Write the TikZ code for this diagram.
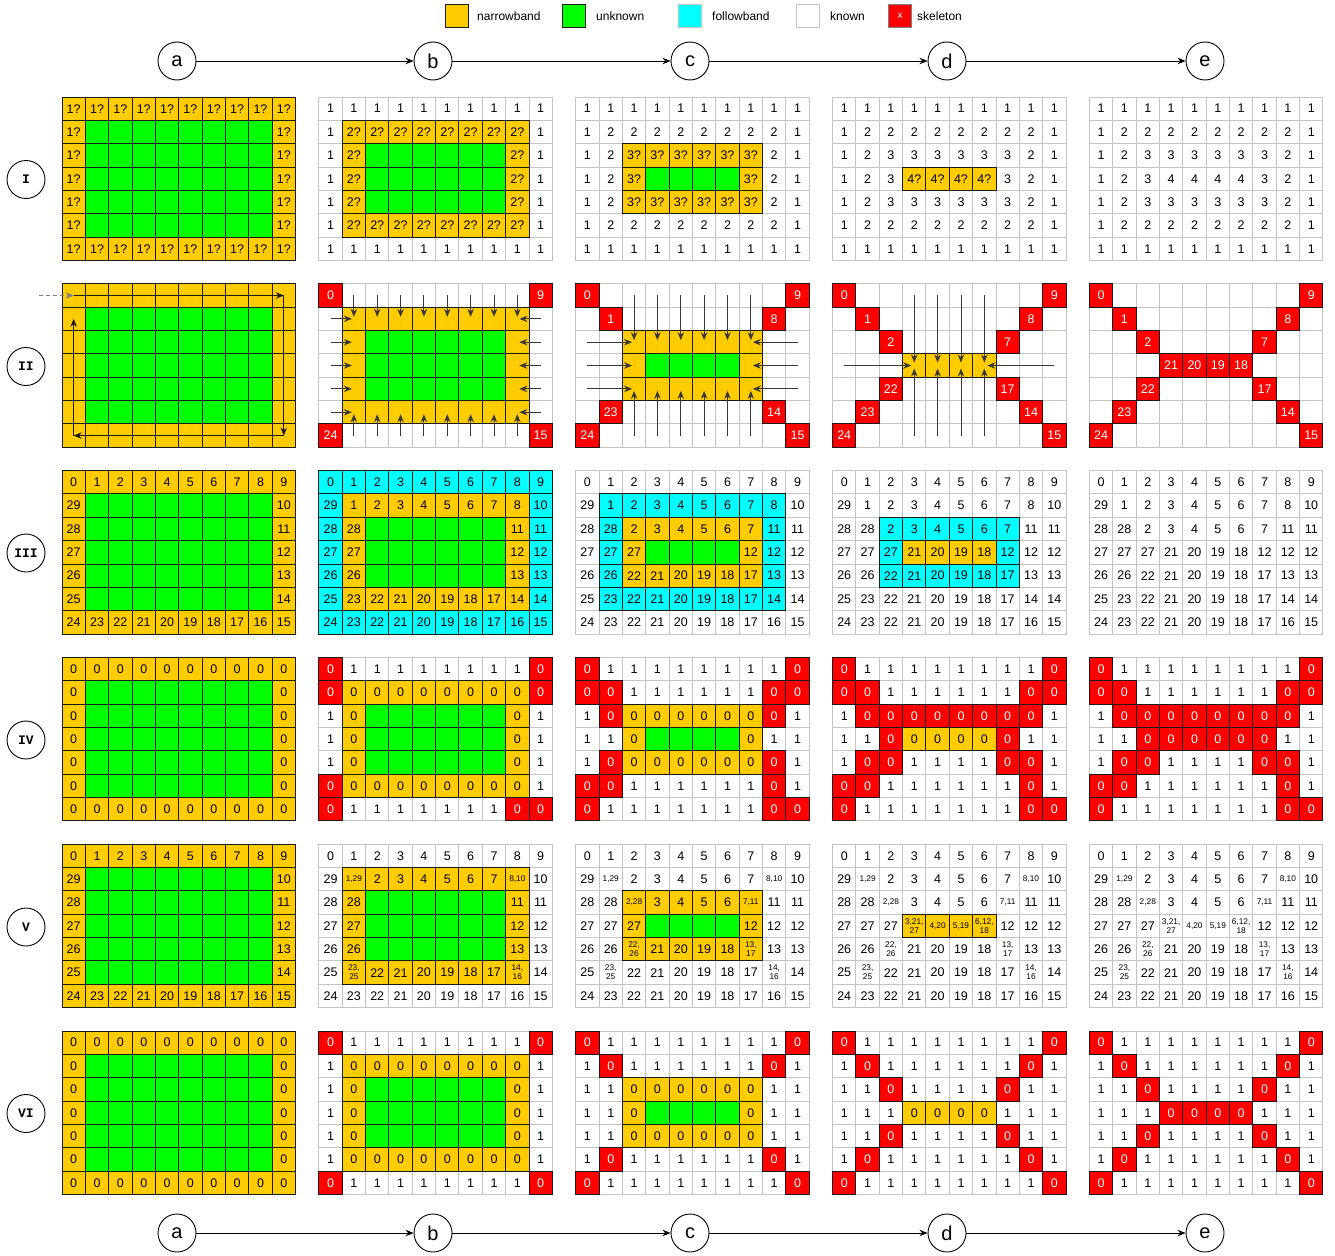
\documentclass[tikz,border=0pt]{standalone}
\usepackage{fontspec}
\setmainfont{Liberation Sans}
\newfontfamily\rlfont{Liberation Mono}
\usepackage{xstring}
\usetikzlibrary{arrows.meta}
\definecolor{nbc}{HTML}{FFCC00}
\definecolor{unc}{HTML}{00FF00}
\definecolor{fbc}{HTML}{00FFFF}
\definecolor{skc}{HTML}{FF0000}
\definecolor{lgc}{HTML}{C4C4C4}
\definecolor{dkc}{HTML}{1A1A1A}
\definecolor{arc}{HTML}{383838}
% type tables
\def\zzfcn{nbc}\def\zzfcN{nbc}\def\zzfcm{nbc}\def\zzfcu{unc}\def\zzfcf{fbc}\def\zzfck{white}\def\zzfcK{white}\def\zzfce{white}\def\zzfcs{skc}
\def\zzdbn{1}\def\zzdbN{1}\def\zzdbm{1}\def\zzdbu{1}\def\zzdbf{1}\def\zzdbk{0}\def\zzdbK{0}\def\zzdbe{0}\def\zzdbs{1}
\def\zztmn{1}\def\zztmN{2}\def\zztmm{0}\def\zztmu{0}\def\zztmf{1}\def\zztmk{1}\def\zztmK{2}\def\zztme{0}\def\zztms{3}
\tikzset{
  cellgray/.style={draw=lgc,line width=1pt},
  celldark/.style={draw=dkc,line width=1pt},
  ctext/.style={font=\fontsize{12.5}{14}\selectfont,inner sep=0pt,text=black},
  stext/.style={font=\fontsize{8.3}{9}\selectfont,inner sep=0pt,align=center,text=black},
  wtext/.style={ctext,text=white},
  arr/.style={draw=arc,line width=0.9pt,shorten >=2pt,-{Stealth[length=8pt,width=6.5pt]}},
  arrA/.style={draw=dkc,line width=1pt,-{Stealth[length=8pt,width=6.5pt]}},
  darr/.style={draw=gray,line width=1pt,dash pattern=on 4pt off 3pt,-{Stealth[length=8pt,width=6.5pt]}},
  hcirc/.style={circle,draw=black,line width=0.9pt,minimum size=38pt,inner sep=0pt,font=\fontsize{20}{22}\selectfont},
  rcirc/.style={circle,draw=black,line width=0.9pt,minimum size=38pt,inner sep=0pt,font=\rlfont\bfseries\fontsize{13}{15}\selectfont},
  harr/.style={draw=black,line width=0.9pt,-{Stealth[length=8pt,width=6.5pt]}},
  lbox/.style={draw=dkc,line width=0.9pt,minimum size=23pt,inner sep=0pt},
  ltext/.style={font=\fontsize{12}{14}\selectfont,anchor=west,inner sep=0pt}
}
\def\pass{1}
\newcommand\G[9]{%
  \def\gc{#1}\def\gr{#2}%
  \pgfmathsetmacro\gx{62+#1*256.85}%
  \pgfmathsetmacro\gy{97+#2*186.8}%
  \RowP{0}{#3}\RowP{1}{#4}\RowP{2}{#5}\RowP{3}{#6}\RowP{4}{#7}\RowP{5}{#8}\RowP{6}{#9}%
}
\newcommand\RowP[2]{\def\rowy{#1}\expandafter\RowPi#2\zzend}
\def\RowPi#1/#2\zzend{%
  \foreach \tx [count=\ii] in {#2}{%
    \pgfmathtruncatemacro\ci{\ii-1}%
    \StrChar{#1}{\ii}[\cty]%
    \pgfmathsetmacro\xa{\gx+\ci*23.35}%
    \pgfmathsetmacro\ya{\gy+\rowy*23.35}%
    \ifcase\pass\relax
    \or
      \edef\fc{\csname zzfc\cty\endcsname}%
      \fill[fill=\fc] (\xa,\ya) rectangle ++(23.35,23.35);
      \draw[cellgray] (\xa,\ya) rectangle ++(23.35,23.35);
    \or
      \edef\db{\csname zzdb\cty\endcsname}%
      \ifnum\db=1\relax
        \draw[celldark] (\xa,\ya) rectangle ++(23.35,23.35);
      \fi
    \or
      \edef\tm{\csname zztm\cty\endcsname}%
      \coordinate (p\gc\gr-\ci-\rowy) at ({\xa+11.675},{\ya+11.675});
      \ifcase\tm\relax
      \or \node[ctext] (t\gc\gr-\ci-\rowy) at (p\gc\gr-\ci-\rowy) {\tx};%
      \or \node[stext] (t\gc\gr-\ci-\rowy) at (p\gc\gr-\ci-\rowy) {\tx};%
      \or \node[wtext] (t\gc\gr-\ci-\rowy) at (p\gc\gr-\ci-\rowy) {\tx};%
      \fi
    \fi
  }%
}
% ---- row data ----
\def\zQa{nnnnnnnnnn/1?,1?,1?,1?,1?,1?,1?,1?,1?,1?}
\def\zQb{nuuuuuuuun/1?,-,-,-,-,-,-,-,-,1?}
\def\zOa{kkkkkkkkkk/1,1,1,1,1,1,1,1,1,1}
\def\zOb{knnnnnnnnk/1,2?,2?,2?,2?,2?,2?,2?,2?,1}
\def\zOc{knuuuuuunk/1,2?,-,-,-,-,-,-,2?,1}
\def\zTb{kkkkkkkkkk/1,2,2,2,2,2,2,2,2,1}
\def\zTc{kknnnnnnkk/1,2,3?,3?,3?,3?,3?,3?,2,1}
\def\zTd{kknuuuunkk/1,2,3?,-,-,-,-,3?,2,1}
\def\zHc{kkkkkkkkkk/1,2,3,3,3,3,3,3,2,1}
\def\zHd{kkknnnnkkk/1,2,3,4?,4?,4?,4?,3,2,1}
\def\zHe{kkkkkkkkkk/1,2,3,4,4,4,4,3,2,1}
\def\zMa{mmmmmmmmmm/-,-,-,-,-,-,-,-,-,-}
\def\zMb{muuuuuuuum/-,-,-,-,-,-,-,-,-,-}
\def\zSa{seeeeeeees/0,-,-,-,-,-,-,-,-,9}
\def\zSg{seeeeeeees/24,-,-,-,-,-,-,-,-,15}
\def\zSb{emmmmmmmme/-,-,-,-,-,-,-,-,-,-}
\def\zSc{emuuuuuume/-,-,-,-,-,-,-,-,-,-}
\def\zCb{eseeeeeese/-,1,-,-,-,-,-,-,8,-}
\def\zCf{eseeeeeese/-,23,-,-,-,-,-,-,14,-}
\def\zCc{eemmmmmmee/-,-,-,-,-,-,-,-,-,-}
\def\zCd{eemuuuumee/-,-,-,-,-,-,-,-,-,-}
\def\zDc{eeseeeesee/-,-,2,-,-,-,-,7,-,-}
\def\zDe{eeseeeesee/-,-,22,-,-,-,-,17,-,-}
\def\zDd{eeemmmmeee/-,-,-,-,-,-,-,-,-,-}
\def\zEd{eeesssseee/-,-,-,21,20,19,18,-,-,-}
\def\zNZ{nnnnnnnnnn/0,1,2,3,4,5,6,7,8,9}
\def\zNB{nnnnnnnnnn/24,23,22,21,20,19,18,17,16,15}
\def\zKZ{kkkkkkkkkk/0,1,2,3,4,5,6,7,8,9}
\def\zKB{kkkkkkkkkk/24,23,22,21,20,19,18,17,16,15}
\def\zZS{nuuuuuuuun/0,-,-,-,-,-,-,-,-,0}
\def\zZN{nnnnnnnnnn/0,0,0,0,0,0,0,0,0,0}
\def\zVa{skkkkkkkks/0,1,1,1,1,1,1,1,1,0}
\def\zVg{skkkkkkkss/0,1,1,1,1,1,1,1,0,0}
\def\zVm{knuuuuuunk/1,0,-,-,-,-,-,-,0,1}
\def\zVb{sskkkkkkss/0,0,1,1,1,1,1,1,0,0}
\def\zVf{sskkkkkksk/0,0,1,1,1,1,1,1,0,1}
\def\zVc{kssssssssk/1,0,0,0,0,0,0,0,0,1}
\def\zVe{ksskkkkssk/1,0,0,1,1,1,1,0,0,1}
\def\zWb{kKkkkkkkKk/29,{1,29},2,3,4,5,6,7,{8,10},10}
\def\zWf{kKkkkkkkKk/25,{23,\\25},22,21,20,19,18,17,{14,\\16},14}
\def\zWc{kkKkkkkKkk/28,28,{2,28},3,4,5,6,{7,11},11,11}
\def\zWe{kkKkkkkKkk/26,26,{22,\\26},21,20,19,18,{13,\\17},13,13}
\def\zXb{kskkkkkksk/1,0,1,1,1,1,1,1,0,1}
\def\zXc{kkskkkkskk/1,1,0,1,1,1,1,0,1,1}
\def\zXn{knnnnnnnnk/1,0,0,0,0,0,0,0,0,1}
\newcommand\NumGridA[2]{\G{#1}{#2}{\zNZ}{nuuuuuuuun/29,-,-,-,-,-,-,-,-,10}{nuuuuuuuun/28,-,-,-,-,-,-,-,-,11}{nuuuuuuuun/27,-,-,-,-,-,-,-,-,12}{nuuuuuuuun/26,-,-,-,-,-,-,-,-,13}{nuuuuuuuun/25,-,-,-,-,-,-,-,-,14}{\zNB}}
\newcommand\ZeroGridA[2]{\G{#1}{#2}{\zZN}{\zZS}{\zZS}{\zZS}{\zZS}{\zZS}{\zZN}}
\newcommand\AllGrids{%
% ---------- row I ----------
\G{0}{0}{\zQa}{\zQb}{\zQb}{\zQb}{\zQb}{\zQb}{\zQa}
\G{1}{0}{\zOa}{\zOb}{\zOc}{\zOc}{\zOc}{\zOb}{\zOa}
\G{2}{0}{\zOa}{\zTb}{\zTc}{\zTd}{\zTc}{\zTb}{\zOa}
\G{3}{0}{\zOa}{\zTb}{\zHc}{\zHd}{\zHc}{\zTb}{\zOa}
\G{4}{0}{\zOa}{\zTb}{\zHc}{\zHe}{\zHc}{\zTb}{\zOa}
% ---------- row II ----------
\G{0}{1}{\zMa}{\zMb}{\zMb}{\zMb}{\zMb}{\zMb}{\zMa}
\G{1}{1}{\zSa}{\zSb}{\zSc}{\zSc}{\zSc}{\zSb}{\zSg}
\G{2}{1}{\zSa}{\zCb}{\zCc}{\zCd}{\zCc}{\zCf}{\zSg}
\G{3}{1}{\zSa}{\zCb}{\zDc}{\zDd}{\zDe}{\zCf}{\zSg}
\G{4}{1}{\zSa}{\zCb}{\zDc}{\zEd}{\zDe}{\zCf}{\zSg}
% ---------- row III ----------
\NumGridA{0}{2}
\G{1}{2}{ffffffffff/0,1,2,3,4,5,6,7,8,9}{fnnnnnnnnf/29,1,2,3,4,5,6,7,8,10}{fnuuuuuunf/28,28,-,-,-,-,-,-,11,11}{fnuuuuuunf/27,27,-,-,-,-,-,-,12,12}{fnuuuuuunf/26,26,-,-,-,-,-,-,13,13}{fnnnnnnnnf/25,23,22,21,20,19,18,17,14,14}{ffffffffff/24,23,22,21,20,19,18,17,16,15}
\G{2}{2}{\zKZ}{kffffffffk/29,1,2,3,4,5,6,7,8,10}{kfnnnnnnfk/28,28,2,3,4,5,6,7,11,11}{kfnuuuunfk/27,27,27,-,-,-,-,12,12,12}{kfnnnnnnfk/26,26,22,21,20,19,18,17,13,13}{kffffffffk/25,23,22,21,20,19,18,17,14,14}{\zKB}
\G{3}{2}{\zKZ}{kkkkkkkkkk/29,1,2,3,4,5,6,7,8,10}{kkffffffkk/28,28,2,3,4,5,6,7,11,11}{kkfnnnnfkk/27,27,27,21,20,19,18,12,12,12}{kkffffffkk/26,26,22,21,20,19,18,17,13,13}{kkkkkkkkkk/25,23,22,21,20,19,18,17,14,14}{\zKB}
\G{4}{2}{\zKZ}{kkkkkkkkkk/29,1,2,3,4,5,6,7,8,10}{kkkkkkkkkk/28,28,2,3,4,5,6,7,11,11}{kkkkkkkkkk/27,27,27,21,20,19,18,12,12,12}{kkkkkkkkkk/26,26,22,21,20,19,18,17,13,13}{kkkkkkkkkk/25,23,22,21,20,19,18,17,14,14}{\zKB}
% ---------- row IV ----------
\ZeroGridA{0}{3}
\G{1}{3}{\zVa}{snnnnnnnns/0,0,0,0,0,0,0,0,0,0}{\zVm}{\zVm}{\zVm}{snnnnnnnnk/0,0,0,0,0,0,0,0,0,1}{\zVg}
\G{2}{3}{\zVa}{\zVb}{ksnnnnnnsk/1,0,0,0,0,0,0,0,0,1}{kknuuuunkk/1,1,0,-,-,-,-,0,1,1}{ksnnnnnnsk/1,0,0,0,0,0,0,0,0,1}{\zVf}{\zVg}
\G{3}{3}{\zVa}{\zVb}{\zVc}{kksnnnnskk/1,1,0,0,0,0,0,0,1,1}{\zVe}{\zVf}{\zVg}
\G{4}{3}{\zVa}{\zVb}{\zVc}{kksssssskk/1,1,0,0,0,0,0,0,1,1}{\zVe}{\zVf}{\zVg}
% ---------- row V ----------
\NumGridA{0}{4}
\G{1}{4}{\zKZ}{kNnnnnnnNk/29,{1,29},2,3,4,5,6,7,{8,10},10}{knuuuuuunk/28,28,-,-,-,-,-,-,11,11}{knuuuuuunk/27,27,-,-,-,-,-,-,12,12}{knuuuuuunk/26,26,-,-,-,-,-,-,13,13}{kNnnnnnnNk/25,{23,\\25},22,21,20,19,18,17,{14,\\16},14}{\zKB}
\G{2}{4}{\zKZ}{\zWb}{kkNnnnnNkk/28,28,{2,28},3,4,5,6,{7,11},11,11}{kknuuuunkk/27,27,27,-,-,-,-,12,12,12}{kkNnnnnNkk/26,26,{22,\\26},21,20,19,18,{13,\\17},13,13}{\zWf}{\zKB}
\G{3}{4}{\zKZ}{\zWb}{\zWc}{kkkNNNNkkk/27,27,27,{3,21,\\27},{4,20},{5,19},{6,12,\\18},12,12,12}{\zWe}{\zWf}{\zKB}
\G{4}{4}{\zKZ}{\zWb}{\zWc}{kkkKKKKkkk/27,27,27,{3,21,\\27},{4,20},{5,19},{6,12,\\18},12,12,12}{\zWe}{\zWf}{\zKB}
% ---------- row VI ----------
\ZeroGridA{0}{5}
\G{1}{5}{\zVa}{\zXn}{\zVm}{\zVm}{\zVm}{\zXn}{\zVa}
\G{2}{5}{\zVa}{\zXb}{kknnnnnnkk/1,1,0,0,0,0,0,0,1,1}{kknuuuunkk/1,1,0,-,-,-,-,0,1,1}{kknnnnnnkk/1,1,0,0,0,0,0,0,1,1}{\zXb}{\zVa}
\G{3}{5}{\zVa}{\zXb}{\zXc}{kkknnnnkkk/1,1,1,0,0,0,0,1,1,1}{\zXc}{\zXb}{\zVa}
\G{4}{5}{\zVa}{\zXb}{\zXc}{kkksssskkk/1,1,1,0,0,0,0,1,1,1}{\zXc}{\zXb}{\zVa}
}
\begin{document}
\begin{tikzpicture}[x=1pt,y=-1pt]
\useasboundingbox (0,0) rectangle (1335,1255);
% ---------- legend ----------
\node[lbox,fill=nbc] (lb1) at (457,16) {};
\node[ltext] (lt1) at (477,16) {narrowband};
\node[lbox,fill=unc] (lb2) at (574,16) {};
\node[ltext] (lt2) at (596,16) {unknown};
\node[lbox,fill=fbc,draw=lgc] (lb3) at (690,16) {};
\node[ltext] (lt3) at (712,16) {followband};
\node[lbox,fill=white,draw=lgc] (lb4) at (808,16) {};
\node[ltext] (lt4) at (830,16) {known};
\node[lbox,fill=skc,draw=gray,text=white,font=\fontsize{10}{12}\selectfont] (lb5) at (900,16) {x};
\node[ltext] (lt5) at (917,16) {skeleton};
% ---------- header / footer ----------
\foreach \n/\x in {a/177,b/433,c/690,d/947,e/1205}{
  \node[hcirc] (h\n) at (\x,61) {\n};
  \node[hcirc] (f\n) at (\x,1233) {\n};
}
\foreach \p/\q in {a/b,b/c,c/d,d/e}{
  \draw[harr] (h\p) -- (h\q);
  \draw[harr] (f\p) -- (f\q);
}
% ---------- row labels ----------
\foreach \n/\y in {I/179.5,II/366.5,III/553,IV/740,V/927,VI/1113.5}{
  \node[rcirc] (r\n) at (26,\y) {\n};
}
% ---------- grids in three passes ----------
\def\pass{1}\AllGrids
\def\pass{2}\AllGrids
\def\pass{3}\AllGrids
% ---------- row II arrows ----------
\path (p01-0-0) ++(-35,0) coordinate (dst);
\draw[darr] (dst) -- (p01-0-0);
\draw[arrA] (p01-0-0) -- (p01-9-0);
\draw[arrA] (p01-9-0) -- (p01-9-6);
\draw[arrA] (p01-9-6) -- (p01-0-6);
\draw[arrA] (p01-0-6) -- (p01-0-1);
\foreach \k in {1,...,8}{\draw[arr] (p11-\k-0) -- (p11-\k-1); \draw[arr] (p11-\k-6) -- (p11-\k-5);}
\foreach \k in {1,...,5}{\draw[arr] (p11-0-\k) -- (p11-1-\k); \draw[arr] (p11-9-\k) -- (p11-8-\k);}
\foreach \k in {2,...,7}{\draw[arr] (p21-\k-0) -- (p21-\k-2); \draw[arr] (p21-\k-6) -- (p21-\k-4);}
\foreach \k in {2,3,4}{\draw[arr] (p21-0-\k) -- (p21-2-\k); \draw[arr] (p21-9-\k) -- (p21-7-\k);}
\foreach \k in {3,...,6}{\draw[arr,shorten >=3pt] (p31-\k-0) -- (p31-\k-3); \draw[arr,shorten >=3pt] (p31-\k-6) -- (p31-\k-3);}
\draw[arr,shorten >=3pt] (p31-0-3) -- (p31-3-3);
\draw[arr,shorten >=3pt] (p31-9-3) -- (p31-6-3);
\end{tikzpicture}
\end{document}
